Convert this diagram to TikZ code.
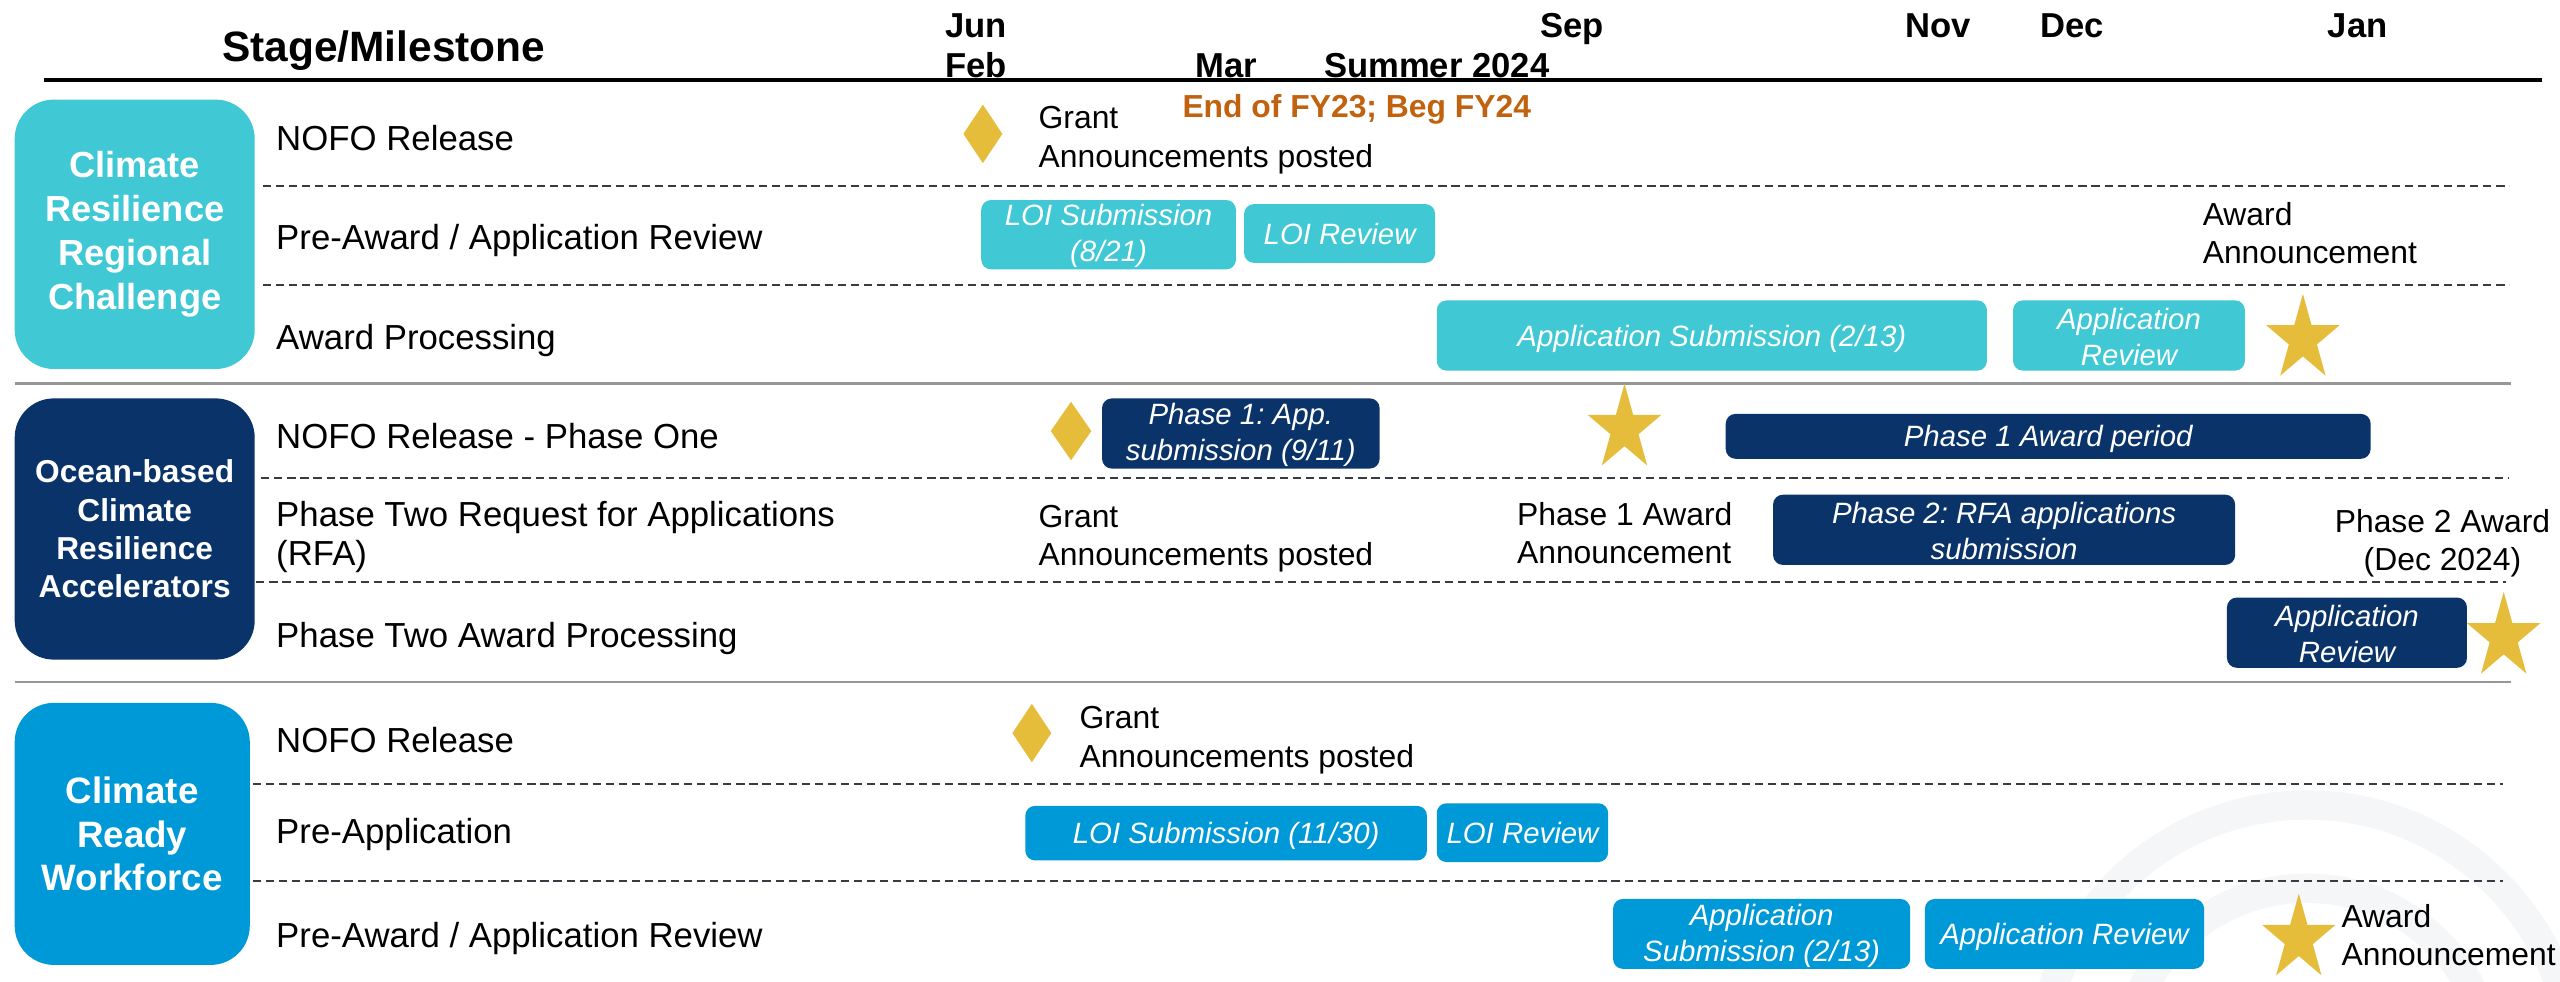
\documentclass[tikz,border=0pt]{standalone}
\usepackage{fontspec}
\setmainfont{Liberation Sans}
\usetikzlibrary{shapes.geometric}
\frenchspacing
\definecolor{cyanbox}{RGB}{64,200,212}
\definecolor{navybox}{RGB}{10,51,105}
\definecolor{bluebox}{RGB}{0,153,215}
\definecolor{gold}{RGB}{229,189,59}
\definecolor{fyorange}{RGB}{192,98,14}
\definecolor{dashcol}{RGB}{55,60,66}
\definecolor{sepgray}{RGB}{150,150,150}
\definecolor{wmark}{RGB}{245,246,248}
\newcommand\fRow{\fontsize{21.3}{25}\selectfont}
\newcommand\fRowTwo{\fontsize{21.3}{23.5}\selectfont}
\newcommand\fNote{\fontsize{19.5}{23.4}\selectfont}
\newcommand\fMonth{\fontsize{21.2}{25}\selectfont\bfseries}
\newcommand\fFY{\fontsize{19.5}{23}\selectfont\bfseries}
\newcommand\fHead{\fontsize{26}{30}\selectfont\bfseries}
\newcommand\fBar{\fontsize{18}{22}\selectfont\itshape}
\newcommand\fGone{\fontsize{22.2}{26.9}\selectfont\bfseries}
\newcommand\fGtwo{\fontsize{19.4}{23.5}\selectfont\bfseries}
\newcommand\fGthree{\fontsize{22.5}{26.5}\selectfont\bfseries}
\newcommand\tstrut{\rule{0pt}{15pt}}
\tikzset{
  rowlbl/.style={anchor=west, inner sep=0pt, font=\fRow, text height=15.3pt, text depth=0pt},
  rowlbltwo/.style={anchor=west, inner sep=0pt, font=\fRowTwo, align=left},
  note/.style={anchor=west, inner sep=0pt, font=\fNote, align=left},
  month/.style={inner sep=0pt, font=\fMonth, text height=15.2pt, text depth=0pt},
  bar/.style={rounded corners=6pt, inner sep=0pt, text=white, font=\fBar, align=center, fill=#1},
  barone/.style={rounded corners=6pt, inner sep=0pt, text=white, font=\fBar, fill=#1, text height=12.9pt, text depth=0pt},
  grp/.style={rounded corners=24pt, inner sep=0pt, fill=#1, text=white, align=center},
  dashline/.style={draw=dashcol, line width=1.1pt, dash pattern=on 5pt off 3pt},
  sepline/.style={draw=sepgray, line width=1.6pt},
  diam/.style={diamond, fill=gold, inner sep=0pt, minimum width=24pt, minimum height=36pt},
  goldstar/.style={star, star points=5, star point ratio=2.618, fill=gold, inner sep=0pt, minimum size=47.3pt, transform shape}
}
\begin{document}
\begin{tikzpicture}[x=1pt,y=-1pt]
\useasboundingbox (0,0) rectangle (1568,600.9);
\fill[white] (0,0) rectangle (1568,600.9);
% watermark
\begin{scope}
\clip (0,0) rectangle (1568,600.9);
\draw[wmark, line width=18pt] (1413,657) circle[radius=164pt];
\draw[wmark, line width=18pt] (1413,657) circle[radius=113pt];
\end{scope}
% header
\node[font=\fHead, inner sep=0pt, text height=18.6pt, text depth=0pt] (hdr) at (235,28.6) {Stage/Milestone};
\node[month] (jun) at (598,15.5) {Jun};
\node[month] (feb) at (598,39.6) {Feb};
\node[month] (mar) at (751,39.6) {Mar};
\node[month] (summer) at (880,39.6) {Summer 2024};
\node[month] (sep) at (963,15.5) {Sep};
\node[month] (nov) at (1187,15.5) {Nov};
\node[month] (dec) at (1269,15.5) {Dec};
\node[month] (jan) at (1444,15.5) {Jan};
\node[font=\fFY, text=fyorange, inner sep=0pt, text height=14pt, text depth=0pt] (fy) at (831,64.8) {End of FY23; Beg FY24};
\draw[line width=2.5pt] (27,49) -- (1557,49);
% group 1
\node[grp=cyanbox, minimum width=147pt, minimum height=165pt, font=\fGone] (g1) at (82.5,143.5) {Climate\\Resilience\\Regional\\Challenge};
\node[rowlbl] (r11) at (169,84.5) {NOFO Release};
\node[rowlbl] (r12) at (169,145) {Pre-Award / Application Review};
\node[rowlbl] (r13) at (169,206.2) {Award Processing};
\draw[dashline] (161,114) -- (1537,114);
\draw[dashline] (161,174.5) -- (1537,174.5);
\draw[sepline] (9,235) -- (1538,235);
\node[diam] (d1) at (602,82) {};
\node[note] (n11) at (636,85.8) {Grant\\Announcements posted};
\node[bar=cyanbox, minimum width=156pt, minimum height=42.5pt] (b11) at (679,143.75) {\tstrut LOI Submission\\(8/21)};
\node[barone=cyanbox, minimum width=117pt, minimum height=36pt] (b12) at (820.5,143) {LOI Review};
\node[note] (n12) at (1349,142.9) {Award\\Announcement};
\node[barone=cyanbox, minimum width=337pt, minimum height=43pt] (b13) at (1048.5,205.5) {Application Submission (2/13)};
\node[bar=cyanbox, minimum width=142pt, minimum height=43pt] (b14) at (1304,205.5) {\tstrut Application\\Review};
\begin{scope}[shift={(1410.5,207.7)}, yscale=1.17]
\node[goldstar] (s1) at (0,0) {};
\end{scope}
% group 2
\node[grp=navybox, minimum width=147pt, minimum height=160pt, font=\fGtwo] (g2) at (82.5,324) {Ocean-based\\Climate\\Resilience\\Accelerators};
\node[rowlbl] (r21) at (169,266.9) {NOFO Release - Phase One};
\node[rowlbltwo] (r22) at (169,328.8) {Phase Two Request for Applications\\(RFA)};
\node[rowlbl] (r23) at (169,388.9) {Phase Two Award Processing};
\draw[dashline] (160,292.8) -- (1537,292.8);
\draw[dashline] (157,356.5) -- (1535,356.5);
\draw[sepline] (9,417.6) -- (1538,417.6);
\node[diam, minimum width=25pt] (d2) at (656,264) {};
\node[bar=navybox, minimum width=170pt, minimum height=43pt] (b21) at (760,265.5) {\tstrut Phase 1: App.\\submission (9/11)};
\begin{scope}[shift={(995,262.7)}, yscale=1.17]
\node[goldstar] (s2) at (0,0) {};
\end{scope}
\node[barone=navybox, minimum width=395pt, minimum height=27.5pt] (b22) at (1254.5,267.25) {Phase 1 Award period};
\node[note] (n21) at (636,329.7) {Grant\\Announcements posted};
\node[note] (n22) at (929,326.6) {Phase 1 Award\\Announcement};
\node[bar=navybox, minimum width=283pt, minimum height=43pt] (b23) at (1227.5,324.5) {\tstrut Phase 2: RFA applications\\submission};
\node[note, anchor=center, align=center] (n23) at (1496,332.7) {Phase 2 Award\\(Dec 2024)};
\node[bar=navybox, minimum width=147pt, minimum height=43pt] (b24) at (1437.5,387.5) {\tstrut Application\\Review};
\begin{scope}[shift={(1533.5,390.2)}, yscale=1.17]
\node[goldstar] (s3) at (0,0) {};
\end{scope}
% group 3
\node[grp=bluebox, minimum width=144pt, minimum height=160.5pt, font=\fGthree] (g3) at (81,510.75) {Climate\\Ready\\Workforce};
\node[rowlbl] (r31) at (169,453) {NOFO Release};
\node[rowlbl] (r32) at (169,509.2) {Pre-Application};
\node[rowlbl] (r33) at (169,572.5) {Pre-Award / Application Review};
\draw[dashline] (155,480) -- (1533,480);
\draw[dashline] (155,539.5) -- (1533,539.5);
\node[diam] (d3) at (632,449) {};
\node[note] (n31) at (661,453.4) {Grant\\Announcements posted};
\node[barone=bluebox, minimum width=246pt, minimum height=33.4pt] (b31) at (751,510.3) {LOI Submission (11/30)};
\node[barone=bluebox, minimum width=105pt, minimum height=36pt] (b32) at (932.5,510) {LOI Review};
\node[bar=bluebox, minimum width=182pt, minimum height=42.8pt] (b33) at (1079,572) {\tstrut Application\\Submission (2/13)};
\node[barone=bluebox, minimum width=171pt, minimum height=42.8pt] (b34) at (1264.5,572) {Application Review};
\begin{scope}[shift={(1408,575)}, yscale=1.17]
\node[goldstar] (s4) at (0,0) {};
\end{scope}
\node[note] (n32) at (1434,572.6) {Award\\Announcement};
\end{tikzpicture}
\end{document}
